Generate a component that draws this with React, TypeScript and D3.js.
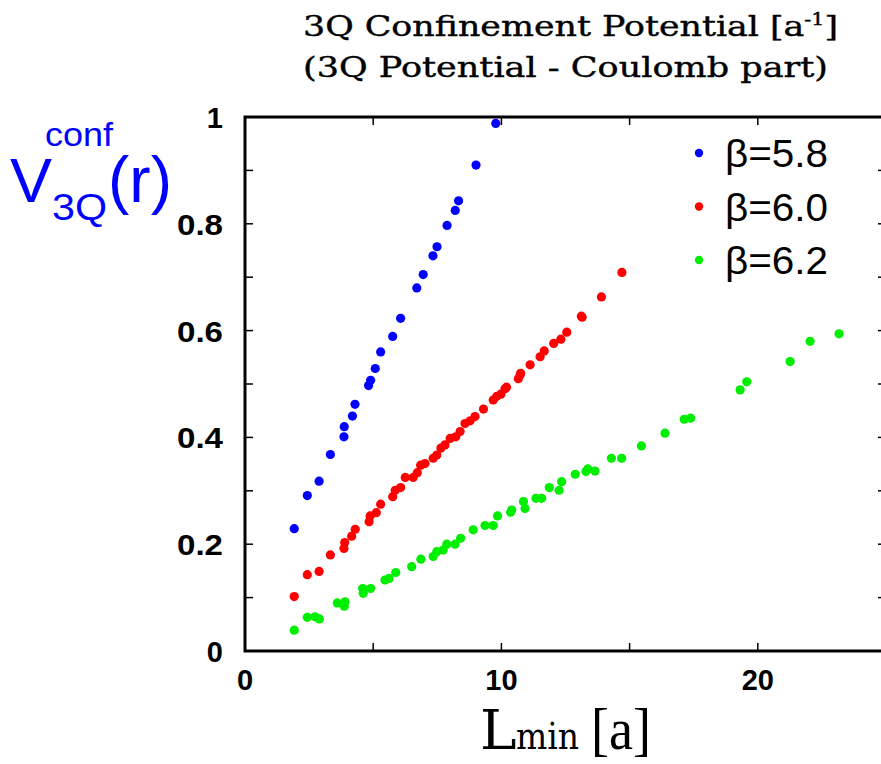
import React from "react";
import * as d3 from "d3";

// beta = 5.8 : [Lmin, V]
const beta58: [number, number][] = [
  [1.92, 0.229], [2.43, 0.291], [2.89, 0.318], [3.33, 0.368], [3.86, 0.401],
  [3.87, 0.42], [4.19, 0.44], [4.29, 0.462], [4.82, 0.497], [4.9, 0.507],
  [5.08, 0.529], [5.29, 0.56], [5.76, 0.589], [6.07, 0.623], [6.7, 0.68],
  [6.95, 0.705], [7.33, 0.74], [7.49, 0.757], [7.88, 0.797], [8.2, 0.825],
  [8.33, 0.843], [9.01, 0.91], [9.78, 0.988],
];

// beta = 6.0
const beta60: [number, number][] = [
  [1.92, 0.102], [2.43, 0.143], [2.89, 0.149], [3.33, 0.18], [3.86, 0.192],
  [3.89, 0.203], [4.16, 0.215], [4.3, 0.228], [4.84, 0.242], [4.88, 0.253],
  [5.12, 0.259], [5.29, 0.275], [5.76, 0.289], [5.86, 0.301], [6.07, 0.306],
  [6.25, 0.325], [6.56, 0.325], [6.72, 0.334], [6.85, 0.348], [7.02, 0.351],
  [7.34, 0.361], [7.48, 0.367], [7.64, 0.38], [7.8, 0.386], [8.0, 0.398],
  [8.22, 0.401], [8.39, 0.411], [8.58, 0.426], [8.78, 0.431], [8.97, 0.439],
  [9.3, 0.453], [9.68, 0.47], [9.82, 0.477], [9.98, 0.481], [10.14, 0.491],
  [10.2, 0.494], [10.66, 0.51], [10.73, 0.517], [10.75, 0.52], [11.12, 0.536],
  [11.51, 0.551], [11.67, 0.562], [12.04, 0.576], [12.32, 0.584], [12.55, 0.597],
  [13.12, 0.627], [13.15, 0.625], [13.9, 0.663], [14.7, 0.709],
];

// beta = 6.2
const beta62: [number, number][] = [
  [1.92, 0.039], [2.43, 0.063], [2.73, 0.064], [2.9, 0.06], [3.6, 0.09],
  [3.87, 0.084], [3.9, 0.092], [4.59, 0.117], [4.61, 0.108], [4.9, 0.117],
  [5.46, 0.133], [5.62, 0.136], [5.88, 0.147], [6.5, 0.158], [6.86, 0.172],
  [7.34, 0.177], [7.48, 0.186], [7.73, 0.189], [7.87, 0.2], [8.19, 0.2],
  [8.41, 0.211], [8.9, 0.227], [9.36, 0.235], [9.68, 0.235], [9.85, 0.253],
  [10.36, 0.26], [10.4, 0.264], [10.86, 0.28], [10.92, 0.267], [11.35, 0.286],
  [11.57, 0.286], [11.87, 0.306], [12.25, 0.301], [12.35, 0.317], [12.88, 0.331],
  [13.3, 0.336], [13.37, 0.341], [13.65, 0.337], [14.29, 0.361], [14.69, 0.361],
  [15.46, 0.384], [16.38, 0.408], [17.13, 0.434], [17.38, 0.436], [19.31, 0.489],
  [19.57, 0.504], [21.26, 0.542], [22.04, 0.58], [23.17, 0.594],
];

const seriesNames = ["β=5.8", "β=6.0", "β=6.2"];
const seriesColors = ["#0000ff", "#ff0000", "#00ee00"];
const xTickLabels = [0, 10, 20];
const yTickLabels = [0, 0.2, 0.4, 0.6, 0.8, 1];

const W = 881, H = 764;
const sans = "'Liberation Sans', Arial, sans-serif";
const serif = "'DejaVu Serif', serif";
const timesLike = "'Liberation Serif', serif";

export default function App() {
  const x = d3.scaleLinear().domain([0, 25]).range([245, 886]);
  const y = d3.scaleLinear().domain([0, 1]).range([651, 117]);
  const all = [beta58, beta60, beta62];
  const xMinor = d3.range(0, 26, 5);
  const yMinor = d3.range(0, 11).map((i) => i / 10);
  const tl = 8;

  return (
    <svg width={W} height={H} style={{ position: "absolute", left: 0, top: 0, background: "#fff" }}>
      {/* title */}
      <g fontFamily={serif} fontSize={27} stroke="#000" strokeWidth={0.4}>
        <text x={303} y={36} textLength={535} lengthAdjust="spacingAndGlyphs">
          3Q Confinement Potential [a<tspan dy={-11} fontSize={16}>-1</tspan><tspan dy={11}>]</tspan>
        </text>
        <text x={303} y={77} textLength={525} lengthAdjust="spacingAndGlyphs">
          (3Q Potential - Coulomb part)
        </text>
      </g>

      {/* frame */}
      <rect x={x(0)} y={y(1)} width={x(25) - x(0)} height={y(0) - y(1)} fill="none" stroke="#000" strokeWidth={3} />
      {xMinor.map((t) => (
        <g key={"xt" + t} stroke="#000" strokeWidth={1.5}>
          <line x1={x(t)} x2={x(t)} y1={y(0)} y2={y(0) - tl} />
          <line x1={x(t)} x2={x(t)} y1={y(1)} y2={y(1) + tl} />
        </g>
      ))}
      {yMinor.map((t) => (
        <g key={"yt" + t} stroke="#000" strokeWidth={1.5}>
          <line x1={x(0)} x2={x(0) + tl} y1={y(t)} y2={y(t)} />
          <line x1={x(25)} x2={x(25) - tl} y1={y(t)} y2={y(t)} />
        </g>
      ))}

      {/* tick labels */}
      {xTickLabels.map((t) => (
        <text key={"xl" + t} x={x(t)} y={y(0) + 39} textAnchor="middle" fontFamily={sans} fontWeight="bold" fontSize={29}>
          {t}
        </text>
      ))}
      {yTickLabels.map((t) => {
        const s = String(t);
        return (
          <text key={"yl" + t} x={223} y={y(t) + 11} textAnchor="end" fontFamily={sans} fontWeight="bold" fontSize={29}
            textLength={s.length > 1 ? 46 : undefined} lengthAdjust="spacingAndGlyphs">
            {s}
          </text>
        );
      })}

      {/* points */}
      {all.map((s, i) => (
        <g key={"s" + i} fill={seriesColors[i]}>
          {s.map((d, j) => (
            <circle key={j} cx={x(d[0])} cy={y(d[1])} r={4.6} />
          ))}
        </g>
      ))}

      {/* legend */}
      {seriesNames.map((n, i) => (
        <g key={"lg" + i}>
          <circle cx={699} cy={153 + i * 53.5} r={4.2} fill={seriesColors[i]} />
          <text x={725} y={167 + i * 53.5} fontFamily={sans} fontSize={38} textLength={103} lengthAdjust="spacingAndGlyphs">
            {n}
          </text>
        </g>
      ))}

      {/* y label */}
      <g fill="#0000ff" fontFamily={sans}>
        <text x={10} y={202} fontSize={63}>V</text>
        <text x={52} y={220} fontSize={36} textLength={55} lengthAdjust="spacingAndGlyphs">3Q</text>
        <text x={108} y={202} fontSize={64}>(r)</text>
        <text x={45} y={146} fontSize={34} textLength={68} lengthAdjust="spacingAndGlyphs">conf</text>
      </g>

      {/* x label */}
      <g>
        <text x={480} y={749} fontFamily={serif} fontSize={55}>L</text>
        <text x={516} y={749} fontFamily={serif} fontSize={37} textLength={63} lengthAdjust="spacingAndGlyphs">min</text>
        <text x={591} y={749} fontFamily={timesLike} fontSize={60} textLength={60} lengthAdjust="spacingAndGlyphs">[a]</text>
      </g>
    </svg>
  );
}
